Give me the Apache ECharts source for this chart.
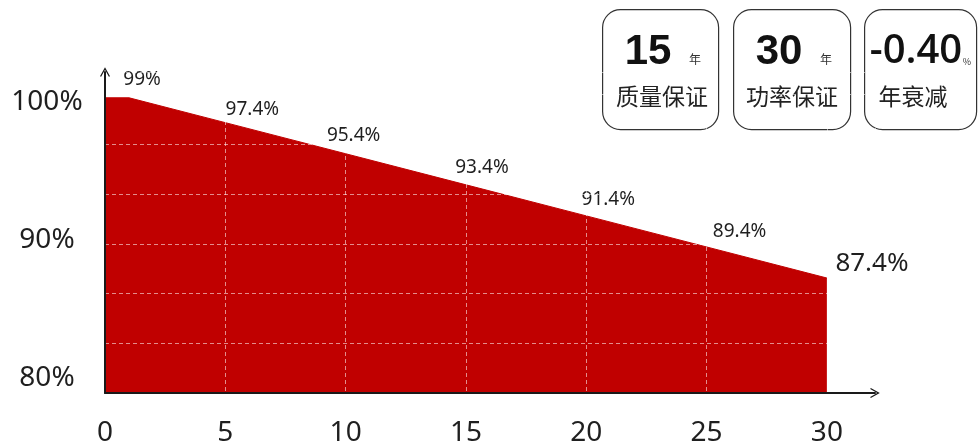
<!DOCTYPE html>
<html>
<head>
<meta charset="utf-8">
<script src="https://cdn.jsdelivr.net/npm/echarts@6/dist/echarts.min.js"></script>
<style>
  html, body { margin: 0; padding: 0; background: #ffffff; }
  #chart { width: 980px; height: 448px; }
</style>
</head>
<body>
<div id="chart"></div>
<script>
// ---- data ----
const years = [0, 1, 5, 10, 15, 20, 25, 30];
const retention = [99, 99, 97.4, 95.4, 93.4, 91.4, 89.4, 87.4];
const pointLabels = ['', '99%', '97.4%', '95.4%', '93.4%', '91.4%', '89.4%', '87.4%'];
const yTickLabels = ['80%', '90%', '100%'];
const xTickValues = [0, 5, 10, 15, 20, 25, 30];

// warranty cards
const cardNumbers = ['15', '30', '-0.40'];
const cardUnits = ['年', '年', '%'];
const cardCaptions = ['质量保证', '功率保证', '年衰减'];

// ---- layout / style (not data) ----
const labelOffsets = [[0, 0], [13, -3], [27, 2], [8, -3], [16, -2], [22, -1], [33, 0], [3, -14]];
const RED = '#C00000';
const TEXT = '#1f1f1f';
const FONT = '"Noto Sans", "Open Sans", sans-serif';
const CJK = '"Noto Sans CJK SC", "Noto Sans", sans-serif';
const GRIDLINE = 'rgba(255,255,255,0.55)';

const seriesData = years.map((x, i) => {
  const last = i === years.length - 1;
  return {
    value: [x, retention[i]],
    label: {
      show: pointLabels[i] !== '',
      formatter: pointLabels[i],
      position: last ? 'right' : 'top',
      offset: labelOffsets[i],
      fontSize: last ? 26 : 19
    }
  };
});

const arrowPath = 'path://M5,0 L10,9 L8.9,9.6 L5,2.6 L1.1,9.6 L0,9 Z';

const cards = [
  { x: 602, w: 116, numX: 648, unitX: 695, capX: 662, numFont: 'bold 42px "Liberation Sans", Arial, sans-serif', unitSize: 12 },
  { x: 733, w: 117, numX: 779, unitX: 826, capX: 792, numFont: 'bold 42px "Liberation Sans", Arial, sans-serif', unitSize: 12 },
  { x: 864, w: 112, numX: 916, unitX: 967, capX: 913, numFont: '600 40px "Open Sans", sans-serif', unitSize: 9 }
];

const graphics = [];
cards.forEach((c, i) => {
  graphics.push({
    type: 'rect', left: c.x, top: 9,
    shape: { width: c.w, height: 120, r: 18 },
    style: { fill: '#fff', stroke: '#333', lineWidth: 1.2 }
  });
  graphics.push({
    type: 'text', x: c.numX, y: 52,
    style: { text: cardNumbers[i], font: c.numFont, fill: '#111', align: 'center', verticalAlign: 'middle' }
  });
  graphics.push({
    type: 'text', x: c.unitX, y: i === 2 ? 62 : 59,
    style: { text: cardUnits[i], fontSize: c.unitSize, fontFamily: CJK, fill: '#333', align: 'center', verticalAlign: 'middle' }
  });
  graphics.push({
    type: 'text', x: c.capX, y: 96,
    style: { text: cardCaptions[i], fontSize: 23, fontFamily: CJK, fill: '#222', align: 'center', verticalAlign: 'middle' }
  });
});

const chart = echarts.init(document.getElementById('chart'), null, { renderer: 'canvas' });
chart.setOption({
  animation: false,
  backgroundColor: '#ffffff',
  grid: [
    { left: 105, right: 105, top: 72, bottom: 55, containLabel: false },
    { left: 105, right: 105, top: 102, bottom: 70, containLabel: false }
  ],
  xAxis: [
    {
      gridIndex: 0, type: 'value', min: 0, max: 32, interval: 5, z: 5,
      axisLine: { show: true, symbol: ['none', arrowPath], symbolSize: [10, 11], lineStyle: { color: '#1a1a1a', width: 2 } },
      axisTick: { show: false },
      axisLabel: {
        show: true, showMaxLabel: false, margin: 26, fontSize: 28, color: TEXT, fontFamily: FONT,
        formatter: v => (xTickValues.indexOf(v) >= 0 ? String(v) : '')
      },
      splitLine: { show: true, lineStyle: { color: GRIDLINE, width: 1, type: [4, 3] } }
    },
    { gridIndex: 1, type: 'value', show: false }
  ],
  yAxis: [
    {
      gridIndex: 0, type: 'value', min: 80, max: 100.66, interval: 3.2, z: 5,
      axisLine: { show: true, symbol: ['none', arrowPath], symbolSize: [10, 11], lineStyle: { color: '#1a1a1a', width: 2 } },
      axisTick: { show: false },
      axisLabel: { show: false },
      splitLine: { show: true, lineStyle: { color: GRIDLINE, width: 1, type: [4, 3] } }
    },
    {
      gridIndex: 1, type: 'category', data: yTickLabels, boundaryGap: false,
      axisLine: { show: false }, axisTick: { show: false }, splitLine: { show: false },
      axisLabel: { show: true, align: 'center', margin: 58, fontSize: 28, color: TEXT, fontFamily: FONT }
    }
  ],
  series: [
    {
      type: 'line',
      xAxisIndex: 0, yAxisIndex: 0,
      data: seriesData,
      symbol: 'circle', symbolSize: 1,
      itemStyle: { color: 'rgba(0,0,0,0)' },
      lineStyle: { color: RED, width: 1 },
      areaStyle: { color: RED, opacity: 1 },
      label: { color: TEXT, fontFamily: FONT },
      z: 2
    }
  ],
  graphic: graphics
});
</script>
</body>
</html>
